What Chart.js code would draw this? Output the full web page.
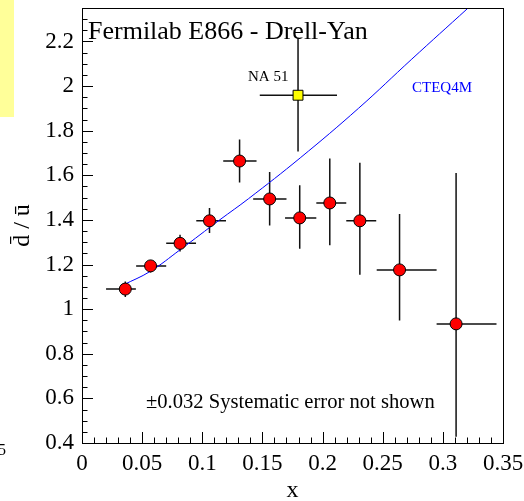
<!DOCTYPE html>
<html>
<head>
<meta charset="utf-8">
<script src="https://cdn.jsdelivr.net/npm/chart.js@4"></script>
<style>
  body { margin: 0; background: #fff; }
  canvas { display: block; }
</style>
</head>
<body>
<canvas id="chart" width="524" height="501"></canvas>
<script>
// E866 d-bar/u-bar points
const e866X = [0.036, 0.057, 0.0815, 0.106, 0.131, 0.156, 0.181, 0.206, 0.231, 0.264, 0.311];
const e866Y = [1.09, 1.194, 1.295, 1.396, 1.664, 1.494, 1.409, 1.476, 1.396, 1.176, 0.934];
const e866XLow = [0.020, 0.045, 0.070, 0.095, 0.1174, 0.1423, 0.1688, 0.1948, 0.2197, 0.245, 0.2948];
const e866XHigh = [0.0448, 0.070, 0.0948, 0.1197, 0.1451, 0.170, 0.1948, 0.2197, 0.2446, 0.2948, 0.3446];
const e866YLow = [1.054, 1.164, 1.259, 1.341, 1.568, 1.375, 1.271, 1.286, 1.154, 0.949, 0.428];
const e866YHigh = [1.124, 1.218, 1.333, 1.453, 1.76, 1.615, 1.555, 1.675, 1.656, 1.426, 1.61];

// NA 51 point
const na51X = [0.1796];
const na51Y = [1.959];
const na51XLow = [0.1478];
const na51XHigh = [0.212];
const na51YLow = [1.707];
const na51YHigh = [2.216];

// CTEQ4M curve
const cteqX = [0.0345, 0.0566, 0.0815, 0.1147, 0.1384, 0.1814, 0.2298, 0.2742, 0.3204];
const cteqY = [1.109, 1.169, 1.266, 1.401, 1.495, 1.678, 1.90, 2.121, 2.347];

const xTicks = [0, 0.05, 0.1, 0.15, 0.2, 0.25, 0.3, 0.35];
const yTicks = [0.4, 0.6, 0.8, 1, 1.2, 1.4, 1.6, 1.8, 2, 2.2];

const serif = '"Liberation Serif", "DejaVu Serif", serif';

const toPoints = (xs, ys) => xs.map((x, i) => ({ x: x, y: ys[i] }));

const errorBars = {
  id: 'errorBars',
  beforeDatasetsDraw(chart) {
    const ctx = chart.ctx;
    const xs = chart.scales.x;
    const ys = chart.scales.y;
    const sets = [
      [e866X, e866Y, e866XLow, e866XHigh, e866YLow, e866YHigh],
      [na51X, na51Y, na51XLow, na51XHigh, na51YLow, na51YHigh]
    ];
    ctx.save();
    ctx.beginPath();
    ctx.rect(chart.chartArea.left, chart.chartArea.top, chart.chartArea.width, chart.chartArea.height);
    ctx.clip();
    ctx.strokeStyle = '#111';
    ctx.lineWidth = 1.5;
    sets.forEach(([px, py, xl, xh, yl, yh]) => {
      px.forEach((x, i) => {
        const cx = xs.getPixelForValue(x);
        const cy = ys.getPixelForValue(py[i]);
        ctx.beginPath();
        ctx.moveTo(xs.getPixelForValue(xl[i]), cy);
        ctx.lineTo(xs.getPixelForValue(xh[i]), cy);
        ctx.moveTo(cx, ys.getPixelForValue(yl[i]));
        ctx.lineTo(cx, ys.getPixelForValue(yh[i]));
        ctx.stroke();
      });
    });
    ctx.restore();
  }
};

const frameAndText = {
  id: 'frameAndText',
  afterDraw(chart) {
    const ctx = chart.ctx;
    const a = chart.chartArea;
    const xs = chart.scales.x;
    const ys = chart.scales.y;
    ctx.save();
    ctx.strokeStyle = '#000';
    ctx.lineWidth = 1;
    ctx.strokeRect(Math.round(a.left) + 0.5, Math.round(a.top) + 0.5, Math.round(a.width), Math.round(a.height));

    // ticks inside the frame
    ctx.beginPath();
    for (let v = 0; v <= 0.3501; v += 0.01) {
      const px = Math.round(xs.getPixelForValue(v)) + 0.5;
      const major = Math.abs(v / 0.05 - Math.round(v / 0.05)) < 1e-6;
      ctx.moveTo(px, a.bottom);
      ctx.lineTo(px, a.bottom - (major ? 11 : 5.5));
    }
    for (let v = 0.4; v <= 2.35; v += 0.05) {
      const py = Math.round(ys.getPixelForValue(v)) + 0.5;
      const major = Math.abs(v / 0.2 - Math.round(v / 0.2)) < 1e-6;
      ctx.moveTo(a.left, py);
      ctx.lineTo(a.left + (major ? 11 : 5.5), py);
    }
    ctx.stroke();

    ctx.fillStyle = '#000';
    ctx.textBaseline = 'alphabetic';
    ctx.textAlign = 'left';
    ctx.font = '26px ' + serif;
    ctx.fillText('Fermilab E866 - Drell-Yan', 88, 39);
    ctx.font = '15px ' + serif;
    ctx.fillText('NA 51', 248, 81);
    ctx.fillStyle = '#0000ff';
    ctx.fillText('CTEQ4M', 412, 92);
    ctx.fillStyle = '#000';
    ctx.font = '20.6px ' + serif;
    ctx.fillText('\u00b10.032 Systematic error not shown', 146, 408);

    // axis titles
    ctx.font = '24px ' + serif;
    ctx.textAlign = 'center';
    ctx.fillText('x', (a.left + a.right) / 2, 497);
    ctx.save();
    ctx.translate(29, (a.top + a.bottom) / 2);
    ctx.rotate(-Math.PI / 2);
    ctx.fillText('d\u0304 / \u016b', 0, 0);
    ctx.restore();

    // bits of a neighbouring pad
    ctx.fillStyle = '#ffff99';
    ctx.fillRect(0, 0, 14, 117);
    ctx.fillStyle = '#000';
    ctx.textAlign = 'left';
    ctx.font = '16px ' + serif;
    ctx.fillText('5', -2, 455);
    ctx.restore();
  }
};

new Chart(document.getElementById('chart'), {
  type: 'scatter',
  data: {
    datasets: [
      {
        label: 'E866',
        data: toPoints(e866X, e866Y),
        pointStyle: 'circle',
        pointRadius: 6,
        backgroundColor: '#ff0000',
        borderColor: '#000',
        borderWidth: 1
      },
      {
        label: 'NA 51',
        data: toPoints(na51X, na51Y),
        pointStyle: 'rect',
        pointRadius: 7,
        backgroundColor: '#ffff00',
        borderColor: '#000',
        borderWidth: 1
      },
      {
        label: 'CTEQ4M',
        data: toPoints(cteqX, cteqY),
        showLine: true,
        pointRadius: 0,
        borderColor: '#0000ff',
        borderWidth: 1,
        tension: 0.4
      }
    ]
  },
  options: {
    responsive: false,
    animation: false,
    layout: { padding: { left: 0, top: 8, right: 21, bottom: 0 } },
    plugins: { legend: { display: false }, tooltip: { enabled: false } },
    scales: {
      x: {
        type: 'linear',
        min: 0,
        max: 0.35,
        afterFit: (s) => { s.height = 58; s.paddingLeft = 0; s.paddingRight = 0; },
        afterBuildTicks: (s) => { s.ticks = xTicks.map(v => ({ value: v })); },
        grid: { display: false, drawTicks: false },
        border: { display: false },
        ticks: {
          padding: 7,
          color: '#000',
          font: { family: serif, size: 23 },
          maxRotation: 0,
          autoSkip: false,
          callback: (v) => String(Math.round(v * 100) / 100)
        }
      },
      y: {
        type: 'linear',
        min: 0.4,
        max: 2.35,
        afterFit: (s) => { s.width = 82; s.paddingTop = 0; s.paddingBottom = 0; },
        afterBuildTicks: (s) => { s.ticks = yTicks.map(v => ({ value: v })); },
        grid: { display: false, drawTicks: false },
        border: { display: false },
        ticks: {
          padding: 8,
          color: '#000',
          font: { family: serif, size: 23 },
          autoSkip: false,
          callback: (v) => String(Math.round(v * 10) / 10)
        }
      }
    }
  },
  plugins: [errorBars, frameAndText]
});
</script>
</body>
</html>
